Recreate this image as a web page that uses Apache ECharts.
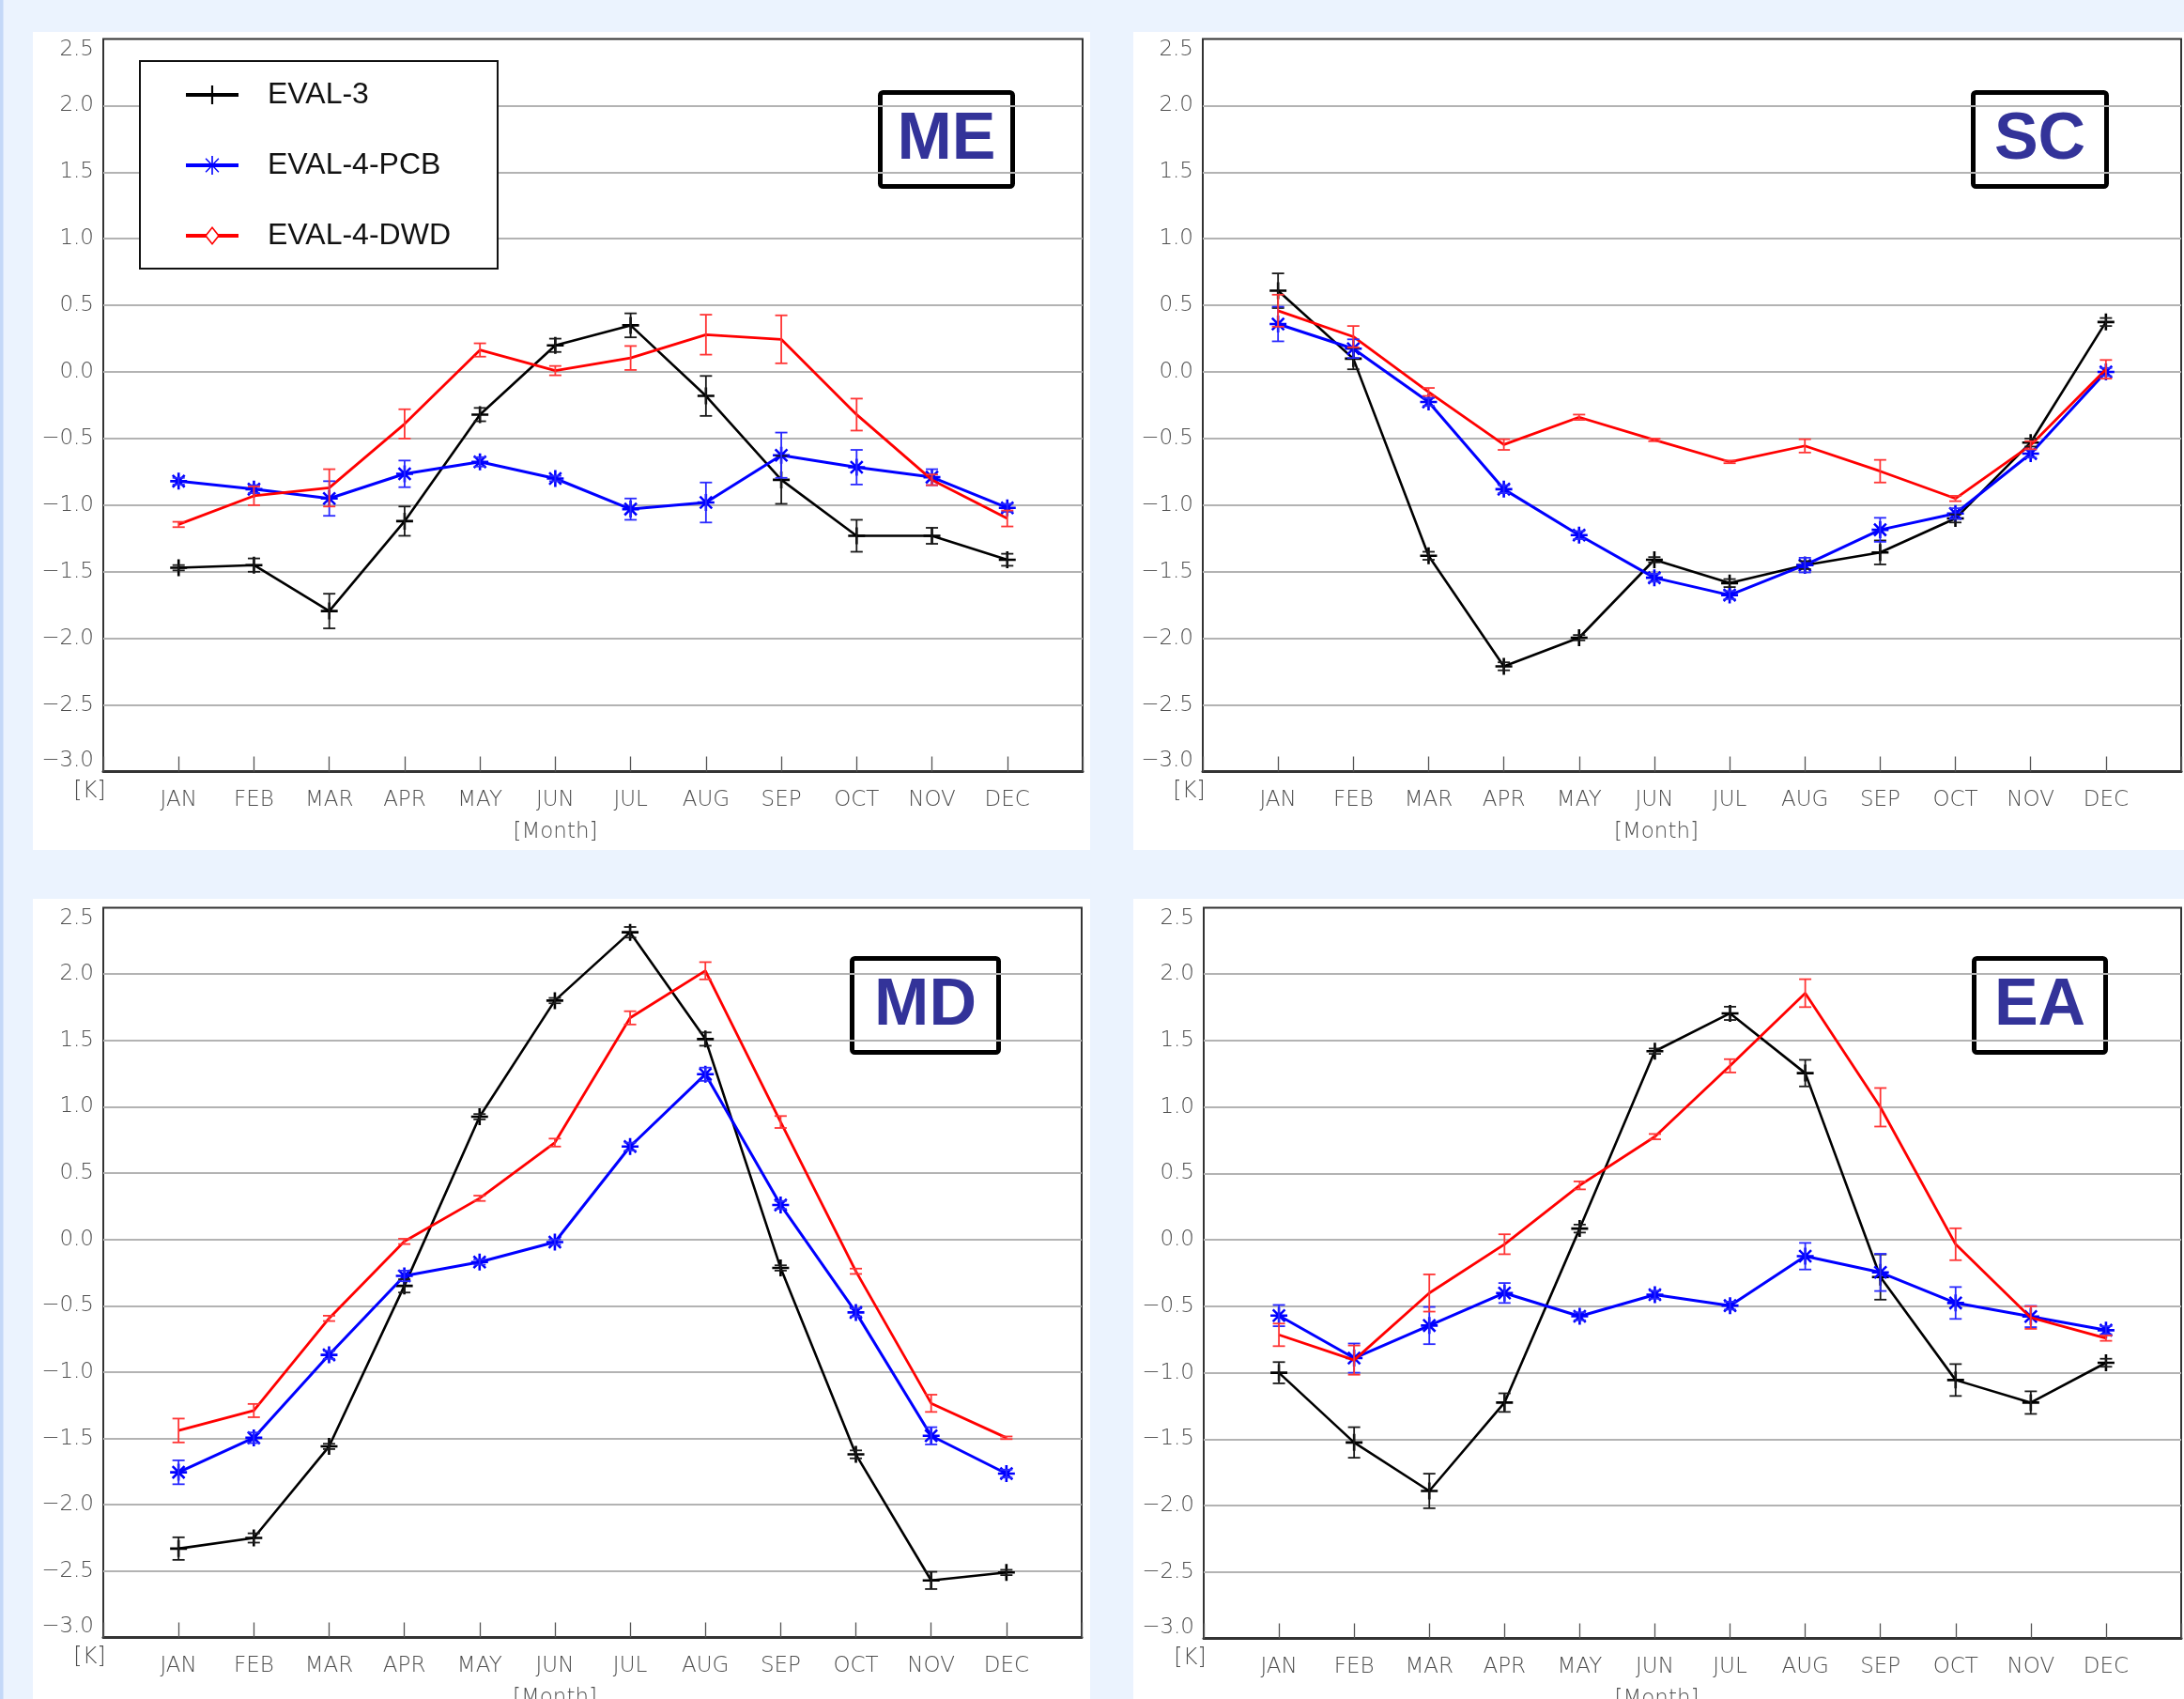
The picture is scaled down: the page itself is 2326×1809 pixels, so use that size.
<!DOCTYPE html>
<html>
<head>
<meta charset="utf-8">
<title>Monthly temperature bias</title>
<script src="https://cdn.jsdelivr.net/npm/echarts@6/dist/echarts.min.js"></script>
<style>
  html, body { margin: 0; padding: 0; background: #EBF3FE; }
  #chart { width: 2326px; height: 1809px; }
</style>
</head>
<body>
<div id="chart"></div>
<script>
// Month labels of the x axis
const MONTHS = ['JAN', 'FEB', 'MAR', 'APR', 'MAY', 'JUN', 'JUL', 'AUG', 'SEP', 'OCT', 'NOV', 'DEC'];
const SERIES_NAMES = ['EVAL-3', 'EVAL-4-PCB', 'EVAL-4-DWD'];
const REGIONS = ['ME', 'SC', 'MD', 'EA'];

// Temperature bias [K] per month and half-width of the error bar
const ME_EVAL3     = [-1.47, -1.45, -1.795, -1.12, -0.32, 0.20, 0.35, -0.18, -0.81, -1.23, -1.23, -1.41];
const ME_EVAL3_ERR = [0.02, 0.05, 0.13, 0.11, 0.05, 0.05, 0.09, 0.15, 0.18, 0.12, 0.06, 0.045];
const ME_PCB       = [-0.82, -0.88, -0.95, -0.765, -0.675, -0.80, -1.03, -0.98, -0.625, -0.715, -0.79, -1.02];
const ME_PCB_ERR   = [0.025, 0.03, 0.13, 0.10, 0.035, 0.02, 0.08, 0.15, 0.17, 0.13, 0.06, 0.03];
const ME_DWD       = [-1.145, -0.93, -0.87, -0.39, 0.165, 0.01, 0.105, 0.28, 0.245, -0.32, -0.81, -1.10];
const ME_DWD_ERR   = [0.02, 0.07, 0.14, 0.11, 0.05, 0.035, 0.09, 0.15, 0.18, 0.12, 0.04, 0.06];

const SC_EVAL3     = [0.61, 0.10, -1.38, -2.21, -1.995, -1.41, -1.585, -1.45, -1.355, -1.10, -0.53, 0.375];
const SC_EVAL3_ERR = [0.13, 0.08, 0.03, 0.03, 0.02, 0.02, 0.03, 0.03, 0.09, 0.03, 0.03, 0.03];
const SC_PCB       = [0.36, 0.175, -0.225, -0.88, -1.225, -1.545, -1.675, -1.45, -1.185, -1.063, -0.613, 0.0];
const SC_PCB_ERR   = [0.13, 0.07, 0.03, 0.03, 0.03, 0.03, 0.03, 0.055, 0.09, 0.04, 0.03, 0.03];
const SC_DWD       = [0.46, 0.265, -0.15, -0.545, -0.34, -0.51, -0.675, -0.555, -0.745, -0.95, -0.55, 0.02];
const SC_DWD_ERR   = [0.12, 0.08, 0.03, 0.04, 0.02, 0.01, 0.01, 0.05, 0.085, 0.02, 0.03, 0.07];

const MD_EVAL3     = [-2.33, -2.25, -1.56, -0.35, 0.925, 1.80, 2.315, 1.51, -0.215, -1.62, -2.57, -2.51];
const MD_EVAL3_ERR = [0.085, 0.035, 0.02, 0.05, 0.02, 0.02, 0.04, 0.05, 0.02, 0.03, 0.065, 0.02];
const MD_PCB       = [-1.755, -1.495, -0.87, -0.275, -0.17, -0.02, 0.70, 1.245, 0.26, -0.55, -1.48, -1.765];
const MD_PCB_ERR   = [0.09, 0.04, 0.03, 0.04, 0.02, 0.02, 0.03, 0.05, 0.03, 0.03, 0.065, 0.03];
const MD_DWD       = [-1.44, -1.29, -0.595, -0.015, 0.31, 0.73, 1.67, 2.025, 0.885, -0.24, -1.235, -1.495];
const MD_DWD_ERR   = [0.09, 0.05, 0.02, 0.02, 0.02, 0.03, 0.05, 0.065, 0.045, 0.02, 0.065, 0.01];

const EA_EVAL3     = [-1.00, -1.525, -1.89, -1.225, 0.085, 1.42, 1.705, 1.255, -0.28, -1.055, -1.225, -0.925];
const EA_EVAL3_ERR = [0.08, 0.115, 0.13, 0.07, 0.03, 0.02, 0.05, 0.10, 0.17, 0.12, 0.085, 0.03];
const EA_PCB       = [-0.57, -0.89, -0.645, -0.40, -0.575, -0.413, -0.495, -0.123, -0.245, -0.475, -0.577, -0.68];
const EA_PCB_ERR   = [0.08, 0.11, 0.14, 0.075, 0.03, 0.03, 0.03, 0.10, 0.14, 0.12, 0.08, 0.03];
const EA_DWD       = [-0.715, -0.905, -0.40, -0.033, 0.41, 0.777, 1.31, 1.857, 0.998, -0.033, -0.585, -0.74];
const EA_DWD_ERR   = [0.085, 0.11, 0.14, 0.075, 0.03, 0.02, 0.05, 0.105, 0.145, 0.12, 0.085, 0.02];

// ---------------------------------------------------------------------------
const FONT = '"Liberation Sans", Arial, Helvetica, sans-serif';
const AXIS_FONT = '"DejaVu Sans", "Liberation Sans", sans-serif';
const GRAY = '#4f4f4f';

const panelValues = [
  [ME_EVAL3, ME_PCB, ME_DWD],
  [SC_EVAL3, SC_PCB, SC_DWD],
  [MD_EVAL3, MD_PCB, MD_DWD],
  [EA_EVAL3, EA_PCB, EA_DWD]
];
const panelErrors = [
  [ME_EVAL3_ERR, ME_PCB_ERR, ME_DWD_ERR],
  [SC_EVAL3_ERR, SC_PCB_ERR, SC_DWD_ERR],
  [MD_EVAL3_ERR, MD_PCB_ERR, MD_DWD_ERR],
  [EA_EVAL3_ERR, EA_PCB_ERR, EA_DWD_ERR]
];

// Plot areas of the four panels
const gridBoxes = [
  { left: 110,  top: 41.5,  width: 1043, height: 780 },
  { left: 1281, top: 41.5,  width: 1042, height: 780 },
  { left: 110,  top: 966.5, width: 1042, height: 777 },
  { left: 1282, top: 966.5, width: 1041, height: 778 }
];
// Horizontal nudge of the "[Month]" title relative to the axis centre
const monthNameShift = [80, 76, 80, 76];

// Marker shapes (filled outlines)
const PLUS = 'path://M7.7,0h2.6v18h-2.6z M0,7.7h18v2.6h-18z';
const STAR = 'path://M7.7,0h2.6v18h-2.6z M0,7.7h18v2.6h-18z ' +
             'M1.7,3.5 L3.5,1.7 L16.3,14.5 L14.5,16.3 Z ' +
             'M14.5,1.7 L16.3,3.5 L3.5,16.3 L1.7,14.5 Z';
// Legend icons: line sample with the marker in the middle (56 x 20 box)
const ICON_PLUS = 'path://M0,8h56v4h-56z M26.9,0h2.2v20h-2.2z';
const ICON_STAR = 'path://M0,8h56v4h-56z M27.2,0h1.6v20h-1.6z ' +
                  'M20.6,3.3 L21.6,2.3 L35.4,16.7 L34.4,17.7 Z ' +
                  'M34.4,2.3 L35.4,3.3 L21.6,17.7 L20.6,16.7 Z';
const ICON_DIAMOND = 'path://M0,8h22v4h-22z M34,8h22v4h-22z ' +
                     'M28,0 L36,10 L28,20 L20,10 Z ' +
                     'M28,2.6 L22.1,10 L28,17.4 L33.9,10 Z';

const styles = [
  { color: '#000000', width: 2.6, symbol: PLUS, size: 18, err: '#1a1a1a' },
  { color: '#0000FF', width: 3.0, symbol: STAR, size: 18, err: '#2a2aff' },
  { color: '#FF0000', width: 2.8, symbol: 'none', size: 0, err: '#ff3535' }
];

function fmtY(v) {
  const a = Math.abs(v).toFixed(1);
  return v < -1e-9 ? '\u2212' + a : a;
}

function renderErrorBar(params, api) {
  const x = api.value(0);
  const pLo = api.coord([x, api.value(1)]);
  const pHi = api.coord([x, api.value(2)]);
  const half = 6.5;
  const style = { stroke: api.visual('color'), lineWidth: 1.8 };
  return {
    type: 'group',
    children: [
      { type: 'line', shape: { x1: pLo[0], y1: pLo[1], x2: pHi[0], y2: pHi[1] }, style },
      { type: 'line', shape: { x1: pLo[0] - half, y1: pLo[1], x2: pLo[0] + half, y2: pLo[1] }, style },
      { type: 'line', shape: { x1: pHi[0] - half, y1: pHi[1], x2: pHi[0] + half, y2: pHi[1] }, style }
    ]
  };
}

const axisText = { color: GRAY, fontSize: 23, fontFamily: AXIS_FONT, fontWeight: 200 };

const grids = [], xAxes = [], yAxes = [], lineSeries = [], errSeries = [];

gridBoxes.forEach((box, p) => {
  grids.push(Object.assign({
    show: true, borderColor: '#333', borderWidth: 2,
    backgroundColor: 'transparent', containLabel: false, outerBoundsMode: 'none'
  }, box));

  xAxes.push({
    type: 'value', gridIndex: p, min: 0, max: 13, interval: 1,
    name: '[Month]', nameLocation: 'middle', nameGap: 53, nameMoveOverlap: false,
    nameTextStyle: Object.assign({}, axisText, { padding: [0, monthNameShift[p], 0, 0] }),
    axisLine: { show: true, onZero: false, lineStyle: { color: '#333', width: 3 } },
    axisTick: { show: true, inside: true, length: 16, lineStyle: { color: '#555', width: 1.3 } },
    axisLabel: Object.assign({
      show: true, margin: 19,
      showMinLabel: true, showMaxLabel: true, hideOverlap: false,
      formatter: v => MONTHS[v - 1] || ''
    }, axisText),
    splitLine: { show: false }
  });

  yAxes.push({
    type: 'value', gridIndex: p, min: -3, max: 2.5, interval: 0.5,
    name: '[K]', nameLocation: 'start', nameGap: 9, nameMoveOverlap: false,
    nameTextStyle: Object.assign({}, axisText, { fontSize: 24, padding: [0, 29, 0, 0] }),
    axisLine: { show: false },
    axisTick: { show: false },
    axisLabel: Object.assign({
      show: true, margin: 10,
      showMinLabel: true, showMaxLabel: true, hideOverlap: false,
      verticalAlignMaxLabel: 'top', verticalAlignMinLabel: 'bottom',
      formatter: fmtY
    }, axisText),
    splitLine: { show: true, showMinLine: false, showMaxLine: false, lineStyle: { color: '#b3b3b3', width: 2 } }
  });

  SERIES_NAMES.forEach((name, s) => {
    const st = styles[s];
    const vals = panelValues[p][s];
    const errs = panelErrors[p][s];
    lineSeries.push({
      type: 'line', name, xAxisIndex: p, yAxisIndex: p,
      data: vals.map((v, i) => [i + 1, v]),
      symbol: st.symbol, symbolSize: st.size, symbolKeepAspect: true, showSymbol: st.size > 0,
      itemStyle: { color: st.color },
      lineStyle: { color: st.color, width: st.width },
      z: 3 + s, silent: true, animation: false
    });
    errSeries.push({
      type: 'custom', name, xAxisIndex: p, yAxisIndex: p,
      data: vals.map((v, i) => [i + 1, v - errs[i], v + errs[i]]),
      encode: { x: 0, y: [1, 2] },
      renderItem: renderErrorBar,
      itemStyle: { color: st.err },
      z: 6, silent: true, animation: false
    });
  });
});

// White panel cards behind the plots
const cards = [
  [35, 34, 1126, 871],
  [1207, 34, 1119, 871],
  [35, 957, 1126, 852],
  [1207, 957, 1119, 852]
].map(([x, y, w, h]) => ({
  type: 'rect', z: -10, silent: true,
  shape: { x, y, width: w, height: h },
  style: { fill: '#ffffff' }
}));

// Region badges
const badgeBoxes = [
  [935, 96, 1081, 201],
  [2099, 96, 2246, 201],
  [905, 1018, 1066, 1123],
  [2100, 1018, 2245, 1123]
];
const badges = badgeBoxes.map(([x0, y0, x1, y1], i) => ({
  type: 'group', z: 20, silent: true,
  children: [
    {
      type: 'rect',
      shape: { x: x0 + 2.5, y: y0 + 2.5, width: x1 - x0 - 5, height: y1 - y0 - 5, r: 3 },
      style: { fill: '#ffffff', stroke: '#000000', lineWidth: 5 }
    },
    {
      type: 'text',
      style: {
        text: REGIONS[i], x: (x0 + x1) / 2, y: (y0 + y1) / 2 + 1,
        align: 'center', verticalAlign: 'middle',
        fill: '#333399', fontSize: 70, fontWeight: 'bold', fontFamily: FONT
      }
    }
  ]
}));

const option = {
  animation: false,
  backgroundColor: '#EBF3FE',
  graphic: [
    { type: 'rect', z: -10, silent: true, shape: { x: 0, y: 0, width: 3.5, height: 1809 }, style: { fill: '#C4D8F8' } },
    ...cards,
    ...badges
  ],
  legend: {
    orient: 'vertical', left: 149, top: 65,
    data: [
      { name: 'EVAL-3', icon: ICON_PLUS },
      { name: 'EVAL-4-PCB', icon: ICON_STAR },
      { name: 'EVAL-4-DWD', icon: ICON_DIAMOND }
    ],
    itemWidth: 56, itemHeight: 20, itemGap: 35,
    itemStyle: { borderWidth: 0 },
    padding: [16, 50, 15, 49],
    backgroundColor: '#ffffff', borderColor: '#111', borderWidth: 2,
    textStyle: { color: '#111', fontSize: 32, fontFamily: FONT, lineHeight: 40, padding: [0, 0, 0, 26] },
    z: 10
  },
  grid: grids,
  xAxis: xAxes,
  yAxis: yAxes,
  series: [...lineSeries, ...errSeries]
};

const chart = echarts.init(document.getElementById('chart'), null, { renderer: 'canvas', width: 2326, height: 1809 });
chart.setOption(option);
</script>
</body>
</html>
